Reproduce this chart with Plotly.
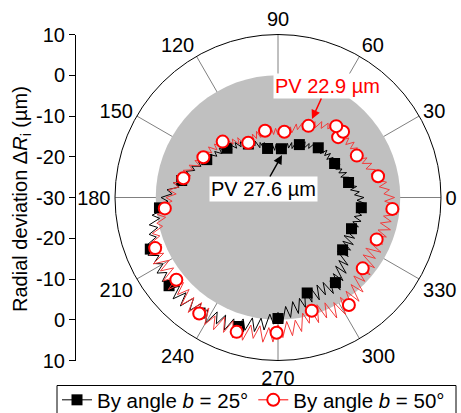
import plotly.graph_objects as go

# ---------------- data ----------------
theta_line = list(range(0, 360, 2))

# By angle b = 50 deg (red), radial deviation in um
r_b50 = [
    -1.4, -4.0, -2.6, -5.0, -3.1, -5.1, -3.7, -6.4, -5.2, -7.3,
    -5.5, -7.7, -6.1, -8.7, -7.4, -9.1, -7.0, -8.6, -6.9, -8.9,
    -7.3, -8.8, -6.7, -8.4, -6.5, -8.4, -6.9, -9.2, -8.0, -10.0,
    -8.5, -10.6, -9.3, -11.7, -10.3, -12.4, -10.8, -12.7, -11.4, -13.8,
    -12.4, -14.5, -12.8, -14.5, -12.7, -14.6, -13.0, -14.5, -12.4, -14.1,
    -12.3, -14.4, -12.7, -14.7, -12.9, -14.6, -13.2, -15.4, -13.8, -15.7,
    -13.2, -14.6, -12.3, -13.8, -11.8, -12.9, -10.4, -11.7, -9.6, -11.4,
    -9.6, -11.0, -8.9, -10.4, -8.6, -10.4, -8.0, -9.8, -7.7, -9.3,
    -6.8, -8.0, -5.8, -7.9, -5.4, -7.0, -4.1, -5.5, -3.1, -5.0,
    -2.5, -4.0, -1.1, -2.8, -0.1, -2.0, 0.4, -0.8, 2.1, 0.5,
    3.5, 0.8, 4.6, 1.2, 4.7, 0.8, 4.0, 0.9, 4.9, 1.4,
    5.1, 1.2, 4.3, 1.4, 5.5, 2.1, 5.8, 1.9, 5.4, 2.0,
    6.0, 2.9, 6.1, 2.1, 5.7, 2.2, 6.2, 2.8, 6.1, 2.0,
    5.1, 1.8, 5.7, 2.0, 5.5, 1.3, 4.4, 0.5, 4.1, 0.4,
    3.4, -1.0, 1.8, -1.8, 2.3, -2.0, 1.9, -1.7, 2.9, -0.8,
    3.2, -1.1, 2.4, -1.6, 2.3, -2.1, 1.2, -3.2, -0.4, -4.1,
    -0.5, -4.1, -0.7, -4.8, -1.8, -5.1, -1.4, -4.9, -1.9, -4.9,
    -1.7, -4.2, -1.3, -4.1, -1.6, -3.7, -0.5, -3.0, -0.6, -3.8,
]

# By angle b = 25 deg (black)
r_b25 = [
    -8.9, -11.2, -10.0, -12.1, -10.5, -12.5, -11.3, -13.4, -12.0, -13.8,
    -12.1, -13.9, -12.8, -14.2, -12.8, -14.3, -13.0, -14.7, -13.3, -14.8,
    -13.2, -14.6, -13.3, -15.0, -13.6, -15.1, -13.6, -15.2, -14.0, -15.8,
    -14.7, -16.2, -14.8, -16.4, -15.2, -17.0, -15.8, -17.5, -16.1, -17.6,
    -16.5, -18.4, -17.2, -18.8, -17.1, -18.4, -16.9, -18.4, -17.0, -18.2,
    -16.5, -17.8, -16.1, -17.5, -15.8, -17.0, -15.1, -16.1, -14.6, -15.9,
    -14.3, -15.4, -13.5, -14.6, -12.9, -14.2, -12.7, -13.7, -11.8, -12.9,
    -11.2, -12.5, -10.8, -11.9, -10.0, -11.0, -9.4, -10.5, -8.7, -9.6,
    -7.5, -8.5, -6.6, -7.7, -5.9, -7.0, -4.1, -5.6, -2.7, -4.0,
    -1.3, -3.0, -0.3, -1.7, 1.2, -0.5, 2.3, 0.4, 2.9, 1.4,
    4.3, 2.6, 4.9, 2.5, 4.5, 2.6, 5.0, 2.9, 5.1, 2.8,
    5.0, 2.5, 5.8, 2.5, 5.8, 2.2, 5.2, 2.2, 5.8, 2.5,
    5.6, 1.8, 4.5, 1.6, 5.1, 1.7, 4.8, 1.0, 3.6, 0.2,
    3.4, -0.1, 2.7, -1.3, 1.1, -1.8, 1.0, -3.2, -0.4, -4.2,
    -1.1, -4.7, -2.2, -6.3, -3.0, -6.2, -2.9, -6.5, -3.4, -6.4,
    -2.8, -5.9, -2.7, -6.9, -4.1, -8.0, -5.0, -8.5, -6.1, -10.3,
    -7.5, -10.9, -8.0, -10.8, -8.2, -11.3, -8.7, -11.2, -8.9, -11.1,
    -9.0, -10.7, -8.8, -10.7, -9.0, -10.5, -8.5, -10.3, -8.6, -10.6,
]

# marker positions (angle deg, value um)
theta_mk_b50 = [12, 28, 45.1, 45.3, 50.8, 67, 84.5, 101, 118.5, 134.7, 151.7, 168.5,
                185.5, 202.4, 219, 235.8, 252.9, 269.4, 286.6, 303.4, 320.1, 337, 354.3]
r_mk_b50 = [-4.9, -8.1, -9.1, -7.3, -7.4, -10.9, -13.8, -13.3, -14.7, -10.7, -9.2, -6.3,
            -2.1, 2.6, 2.1, 4.4, 4.5, 3.2, -1.0, 1.6, -2.9, -3.7, -1.8]

theta_mk_b25 = [12, 31, 51, 68, 86, 102, 119, 136, 152, 170, 185, 202,
                219, 236, 253, 270, 287, 304, 321, 337, 353]
r_mk_b25 = [-12.3, -13.8, -14.3, -16.0, -18.0, -17.7, -15.0, -12.6, -10.2, -6.0, -0.8, 3.8,
            4.4, 4.2, 3.1, -0.3, -5.5, -4.8, -9.6, -10.4, -9.4]

angle_ticks = [0, 30, 60, 90, 120, 150, 180, 210, 240, 270, 300, 330]
angle_ticktext = [str(a) for a in angle_ticks]

left_tickvals = [-40, -30, -20, -10, 0, 10, 20, 30, 40]
left_ticktext = ["10", "0", "-10", "-20", "-30", "-20", "-10", "0", "10"]

reference_level = 0.0
disk_theta = list(range(0, 361, 5))

labels = ["By angle <i>b</i> = 25°", "By angle <i>b</i> = 50°"]
pv_texts = ["PV 27.6 µm", "PV 22.9 µm"]
y_title = "Radial deviation Δ<i>R</i><sub>i</sub> (µm)"

# ---------------- figure ----------------
FONT = "Liberation Sans, Arial, sans-serif"
RED_LINE = "#f23b3b"
RED = "#ff0000"

fig = go.Figure()

fig.add_trace(go.Scatterpolar(
    theta=disk_theta, r=[reference_level] * len(disk_theta),
    mode="lines", fill="toself", fillcolor="#c0c0c0",
    line=dict(color="#c0c0c0", width=0), showlegend=False, hoverinfo="skip"))

fig.add_trace(go.Scatterpolar(
    theta=theta_line + theta_line[:1], r=r_b25 + r_b25[:1], mode="lines",
    line=dict(color="black", width=1), showlegend=False))
fig.add_trace(go.Scatterpolar(
    theta=theta_mk_b25, r=r_mk_b25, mode="markers",
    marker=dict(symbol="square", size=11, color="black"), showlegend=False))

fig.add_trace(go.Scatterpolar(
    theta=theta_line + theta_line[:1], r=r_b50 + r_b50[:1], mode="lines",
    line=dict(color=RED_LINE, width=1), showlegend=False))
fig.add_trace(go.Scatterpolar(
    theta=theta_mk_b50, r=r_mk_b50, mode="markers",
    marker=dict(symbol="circle", size=12, color="white", line=dict(color=RED, width=2)),
    showlegend=False))

# legend entries
fig.add_trace(go.Scatterpolar(
    theta=[None], r=[None], mode="lines+markers", name=labels[0],
    line=dict(color="black", width=1),
    marker=dict(symbol="square", size=11, color="black")))
fig.add_trace(go.Scatterpolar(
    theta=[None], r=[None], mode="lines+markers", name=labels[1],
    line=dict(color=RED, width=1),
    marker=dict(symbol="circle", size=12, color="white", line=dict(color=RED, width=2))))

# dummy trace for the left linear axis
fig.add_trace(go.Scatter(x=[None], y=[None], showlegend=False, hoverinfo="skip",
                         xaxis="x", yaxis="y"))

W, H = 461, 413
fig.update_layout(
    template="none",
    width=W, height=H,
    margin=dict(l=0, r=0, t=0, b=0, pad=0, autoexpand=False),
    paper_bgcolor="white", plot_bgcolor="rgba(0,0,0,0)",
    font=dict(family=FONT, size=20, color="black"),
    polar=dict(
        domain=dict(x=[115 / W, 441 / W], y=[1 - 360.5 / H, 1 - 34.5 / H]),
        bgcolor="white",
        angularaxis=dict(
            tickmode="array", tickvals=angle_ticks, ticktext=angle_ticktext,
            direction="counterclockwise", rotation=0,
            showline=True, linecolor="black", linewidth=1,
            showgrid=True, gridcolor="#808080", gridwidth=1,
            ticks="", tickfont=dict(size=20, color="black", family=FONT)),
        radialaxis=dict(range=[-30, 10], visible=False, showgrid=False),
    ),
    xaxis=dict(domain=[76 / W, 80 / W], range=[0, 1], visible=False, fixedrange=True,
               automargin=False),
    yaxis=dict(
        domain=[1 - 360.5 / H, 1 - 34.5 / H], range=[-40, 40], anchor="x",
        tickmode="array", tickvals=left_tickvals, ticktext=left_ticktext,
        showline=True, linecolor="black", linewidth=1,
        ticks="outside", ticklen=6, tickcolor="black", tickwidth=1,
        showgrid=False, zeroline=False, automargin=False,
        tickfont=dict(size=20, family=FONT, color="black"),
    ),
    legend=dict(
        orientation="h", x=57 / W, y=1 - 380 / H, xanchor="left", yanchor="top",
        borderwidth=0, bgcolor="rgba(0,0,0,0)",
        font=dict(size=20.5, family=FONT, color="black"),
        itemwidth=30, tracegroupgap=0,
    ),
    shapes=[
        # legend frame (open at the figure's bottom edge, as in the reference)
        dict(type="rect", xref="paper", yref="paper", layer="below",
             x0=57 / W, x1=456 / W, y0=-0.05, y1=1 - 385.5 / H,
             line=dict(color="black", width=1), fillcolor="white"),
    ],
    annotations=[
        dict(text=y_title, xref="paper", yref="paper", x=22 / W, y=1 - 199 / H,
             textangle=-90, showarrow=False, xanchor="center", yanchor="middle",
             font=dict(size=20, family=FONT, color="black")),
        dict(text=pv_texts[1], xref="paper", yref="paper",
             x=312 / W, y=1 - 119 / H, ax=15, ay=-33,
             showarrow=True, arrowhead=2, arrowsize=1.2, arrowwidth=1.5,
             arrowcolor=RED, font=dict(size=20, color=RED, family=FONT),
             bgcolor="white", borderpad=1),
        dict(text=pv_texts[0], xref="paper", yref="paper",
             x=282 / W, y=1 - 155 / H, ax=-19, ay=34,
             showarrow=True, arrowhead=2, arrowsize=1.2, arrowwidth=1.5,
             arrowcolor="black", font=dict(size=20, color="black", family=FONT),
             bgcolor="white", borderpad=1),
    ],
)

fig.write_html("out.html")
